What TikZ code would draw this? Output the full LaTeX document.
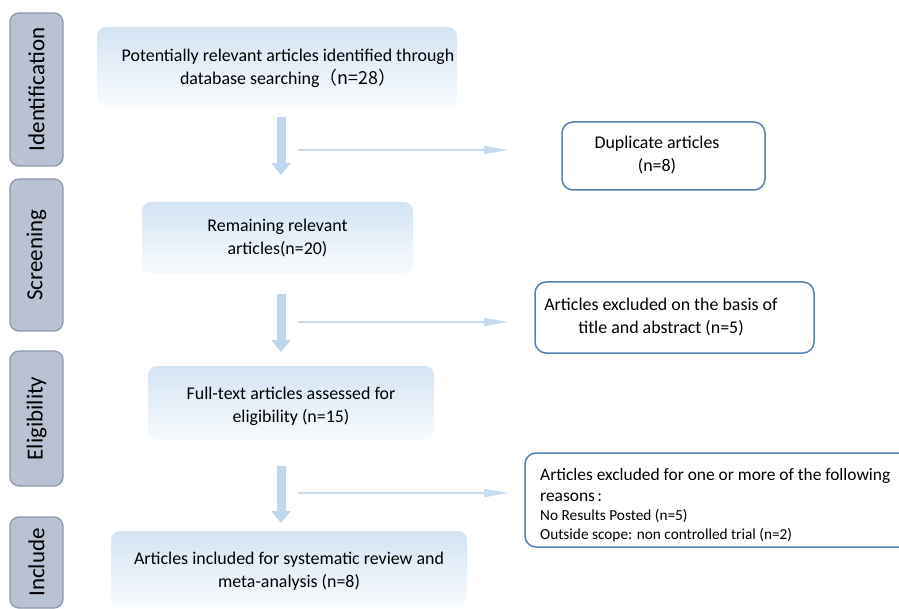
\documentclass[tikz,border=0pt]{standalone}
\usepackage{fontspec}
\setmainfont{Carlito}
\newfontfamily\cjk{Noto Sans CJK SC}
\usetikzlibrary{arrows.meta}
\definecolor{stagefill}{HTML}{B9C2D2}
\definecolor{stageline}{HTML}{8D99AC}
\definecolor{boxtop}{HTML}{D3E4F3}
\definecolor{boxbot}{HTML}{F8FBFE}
\definecolor{arrowblue}{HTML}{BDD7EE}
\definecolor{thinblue}{HTML}{C8DCEF}
\definecolor{edgeblue}{HTML}{5282B5}
\begin{document}
\begin{tikzpicture}[x=1pt,y=-1pt,
 stagebox/.style={draw=stageline, line width=1.3pt, fill=stagefill, rounded corners=9pt, inner sep=0pt, font=\fontsize{23}{28}\selectfont},
 mainbox/.style={top color=boxtop, bottom color=boxbot, draw=none, rounded corners=9pt, inner sep=0pt},
 maintext/.style={align=center, font=\fontsize{17.9}{23}\selectfont, inner sep=0pt},
 sidebox/.style={draw=edgeblue, line width=1.5pt, fill=white, rounded corners=11pt, inner sep=0pt},
 downarrow/.style={draw=arrowblue, line width=9pt, -{Triangle[width=19pt,length=12pt]}},
 sidearrow/.style={draw=thinblue, line width=2pt, -{Triangle[width=8pt,length=25pt]}}
]
\clip (0,0) rectangle (899,609);
\fill[white] (0,0) rectangle (899,609);

% stage labels
\node[stagebox, rotate=90, minimum width=153pt, minimum height=53pt] (sid) at (36.5,89.5) {Identification};
\node[stagebox, rotate=90, minimum width=152pt, minimum height=53pt] (ssc) at (36.5,255) {Screening};
\node[stagebox, rotate=90, minimum width=135pt, minimum height=53pt] (sel) at (36.5,418.5) {Eligibility};
\node[stagebox, rotate=90, minimum width=91pt, minimum height=53pt] (sin) at (36.5,562.5) {Include};

% main boxes
\node[mainbox, minimum width=360pt, minimum height=80pt] (b1) at (277,67) {};
\node[maintext] (t1) at (288,68.5) {Potentially relevant articles identified through\\database searching\cjk{（}n=28\cjk{）}};
\node[mainbox, maintext, minimum width=271pt, minimum height=72pt] (b2) at (277.5,238) {Remaining relevant\\articles(n=20)};
\node[mainbox, minimum width=286pt, minimum height=74pt] (b3) at (291,403) {};
\node[maintext] (t3) at (291,406) {Full-text articles assessed for\\eligibility (n=15)};
\node[mainbox, minimum width=356pt, minimum height=76pt] (b4) at (289,569) {};
\node[maintext] (t4) at (289,571) {Articles included for systematic review and\\meta-analysis (n=8)};

% side boxes
\node[sidebox, minimum width=203pt, minimum height=68pt] (r1) at (663.5,156) {};
\node[maintext] (u1) at (657,155.5) {Duplicate articles\\(n=8)};
\node[sidebox, minimum width=279pt, minimum height=71pt] (r2) at (674.5,317.5) {};
\node[maintext] (u2) at (661,317.5) {Articles excluded on the basis of\\title and abstract (n=5)};
\node[sidebox, minimum width=390pt, minimum height=94pt] (r3) at (720,500) {};
\node[align=left, inner sep=0pt, anchor=north west, font=\fontsize{17.4}{21}\selectfont] (u3) at (540,468)
 {Articles excluded for one or more of the following\\reasons\hspace{2.5pt}:\\[-2pt]
  {\fontsize{15.3}{18}\selectfont No Results Posted (n=5)}\\[-2pt]
  {\fontsize{15.3}{18}\selectfont Outside scope: non controlled trial (n=2)}};

% arrows
\coordinate (d1s) at (281,117); \coordinate (d1e) at (281,175);
\coordinate (d2s) at (281,294); \coordinate (d2e) at (281,352);
\coordinate (d3s) at (281,466); \coordinate (d3e) at (281,523);
\draw[downarrow] (d1s) -- (d1e);
\draw[downarrow] (d2s) -- (d2e);
\draw[downarrow] (d3s) -- (d3e);
\coordinate (h1s) at (298,150); \coordinate (h1e) at (509,150);
\coordinate (h2s) at (298,322); \coordinate (h2e) at (509,322);
\coordinate (h3s) at (298,493); \coordinate (h3e) at (509,493);
\draw[sidearrow] (h1s) -- (h1e);
\draw[sidearrow] (h2s) -- (h2e);
\draw[sidearrow] (h3s) -- (h3e);
\end{tikzpicture}
\end{document}
